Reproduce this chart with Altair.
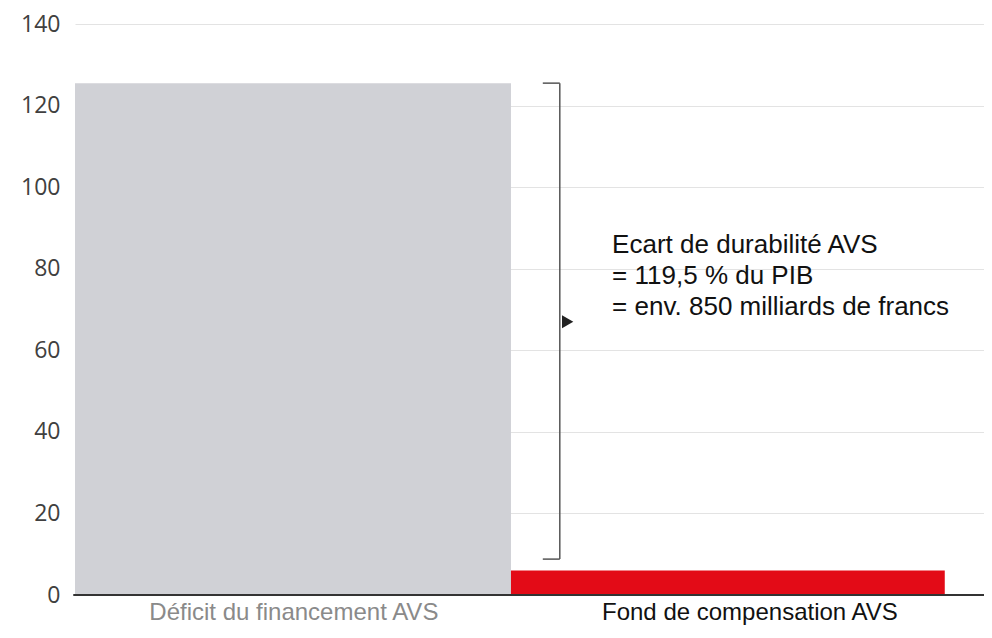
import altair as alt
import pandas as pd

# ---- data ----
categories = ["Déficit du financement AVS", "Fond de compensation AVS"]
cat_index = [0, 1]
bar_width = [1.0, 0.995]
values = [125.5, 6.0]
bar_colors = ["#d0d1d6", "#e30b17"]
label_colors = ["#8a8a8a", "#111111"]
label_pos = [0.502, 1.548]
y_ticks = [0, 20, 40, 60, 80, 100, 120, 140]

annotation_lines = ["Ecart de durabilité AVS", "= 119,5 % du PIB", "= env. 850 milliards de francs"]
gap_top = 125.5
gap_bottom = 8.8
gap_arrow = 67.0
bracket_x = 1.112
bracket_tick_x = 1.073
arrow_x = 1.13
text_x = 1.232
text_y = 85.8
x_max = 2.085

bars = pd.DataFrame({
    "cat": categories,
    "start": cat_index,
    "end": [i + w for i, w in zip(cat_index, bar_width)],
    "value": values,
    "zero": [0.0, 0.0],
})
labels = pd.DataFrame({"cat": categories, "x": label_pos, "color": label_colors})
bracket = pd.DataFrame({
    "x": [bracket_x, bracket_tick_x, bracket_tick_x],
    "x2": [bracket_x, bracket_x, bracket_x],
    "y": [gap_bottom, gap_top, gap_bottom],
    "y2": [gap_top, gap_top, gap_bottom],
})
arrow = pd.DataFrame({"x": [arrow_x], "y": [gap_arrow]})
note = pd.DataFrame({"x": [text_x], "y": [text_y]})
base_df = pd.DataFrame({"x": [-0.004], "x2": [x_max], "y": [0.0]})

xs = alt.Scale(domain=[0, x_max], nice=False, zero=False)
ys = alt.Scale(domain=[0, 140], nice=False)

yaxis = alt.Axis(values=y_ticks, title=None, ticks=False, domain=False,
                 labelFont="Open Sans", labelFontSize=23, labelColor="#404040",
                 labelPadding=15, gridColor="#e3e3e3", gridWidth=1)

bar_layer = alt.Chart(bars).mark_bar(opacity=1).encode(
    x=alt.X("start:Q", scale=xs, axis=None),
    x2="end:Q",
    y=alt.Y("value:Q", scale=ys, axis=yaxis),
    y2="zero:Q",
    color=alt.Color("cat:N", scale=alt.Scale(domain=categories, range=bar_colors), legend=None),
)

baseline = alt.Chart(base_df).mark_rule(color="#333333", strokeWidth=2).encode(
    x=alt.X("x:Q", scale=xs), x2="x2:Q", y=alt.Y("y:Q", scale=ys)
)

bracket_layer = alt.Chart(bracket).mark_rule(color="#555555", strokeWidth=1.5).encode(
    x=alt.X("x:Q", scale=xs), x2="x2:Q", y=alt.Y("y:Q", scale=ys), y2="y2:Q"
)

arrow_layer = alt.Chart(arrow).mark_point(shape="triangle-right", filled=True, size=170,
                                          color="#222222", opacity=1).encode(
    x=alt.X("x:Q", scale=xs), y=alt.Y("y:Q", scale=ys)
)

note_layer = alt.Chart(note).mark_text(align="left", baseline="middle", font="Liberation Sans",
                                       fontSize=26, lineHeight=31, color="#111111").encode(
    x=alt.X("x:Q", scale=xs), y=alt.Y("y:Q", scale=ys), text=alt.value(annotation_lines)
)

label_layer = alt.Chart(labels).mark_text(align="center", baseline="middle",
                                          font="Liberation Sans", fontSize=24).encode(
    x=alt.X("x:Q", scale=xs), y=alt.value(589), text="cat:N",
    color=alt.Color("color:N", scale=None),
)

chart = alt.layer(bar_layer, bracket_layer, arrow_layer, note_layer, label_layer, baseline).properties(
    width=909, height=571,
    autosize=alt.AutoSizeParams(type="none"),
    padding={"left": 67, "top": 16, "right": 0, "bottom": 31},
).configure_view(stroke=None)

chart.save("out.html", embed_options={"renderer": "svg", "actions": False})
